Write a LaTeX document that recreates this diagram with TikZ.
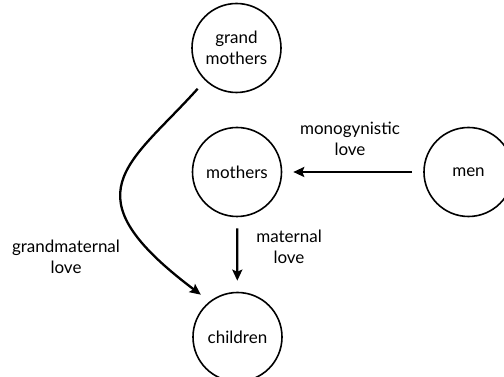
\documentclass[tikz,border=0pt]{standalone}
\usepackage{fontspec}
\setmainfont{Lato}
\usetikzlibrary{arrows.meta}

\begin{document}
\begin{tikzpicture}[
    x=1pt, y=1pt,
    group/.style={circle, draw=black, line width=1.6pt, fill=white,
        minimum size=89pt, inner sep=0pt, align=center,
        font=\fontsize{17}{21}\selectfont},
    love/.style={line width=2.3pt, -{Stealth[length=11pt,width=10pt,inset=2pt]},
        shorten <=11pt, shorten >=11pt},
    tag/.style={align=center, font=\fontsize{17}{21}\selectfont}
]
    \useasboundingbox (0,0) rectangle (504,377);
    \node[group] (gm) at (236.5,329) {grand\\mothers};
    \node[group] (mothers) at (237,205) {mothers};
    \node[group] (men) at (468.5,205) {men};
    \node[group] (children) at (237.5,40) {children};
    \draw[love] (men) -- (mothers);
    \draw[love] (mothers) -- (children);
    \draw[love] (gm.226) .. controls (128.7,211.6) and (66.3,183.5) .. (children.128);
    \node[tag] (mono) at (350,238) {monogynistic\\love};
    \node[tag] (mat) at (289,130) {maternal\\love};
    \node[tag] (grand) at (66,120) {grandmaternal\\love};
\end{tikzpicture}
\end{document}
